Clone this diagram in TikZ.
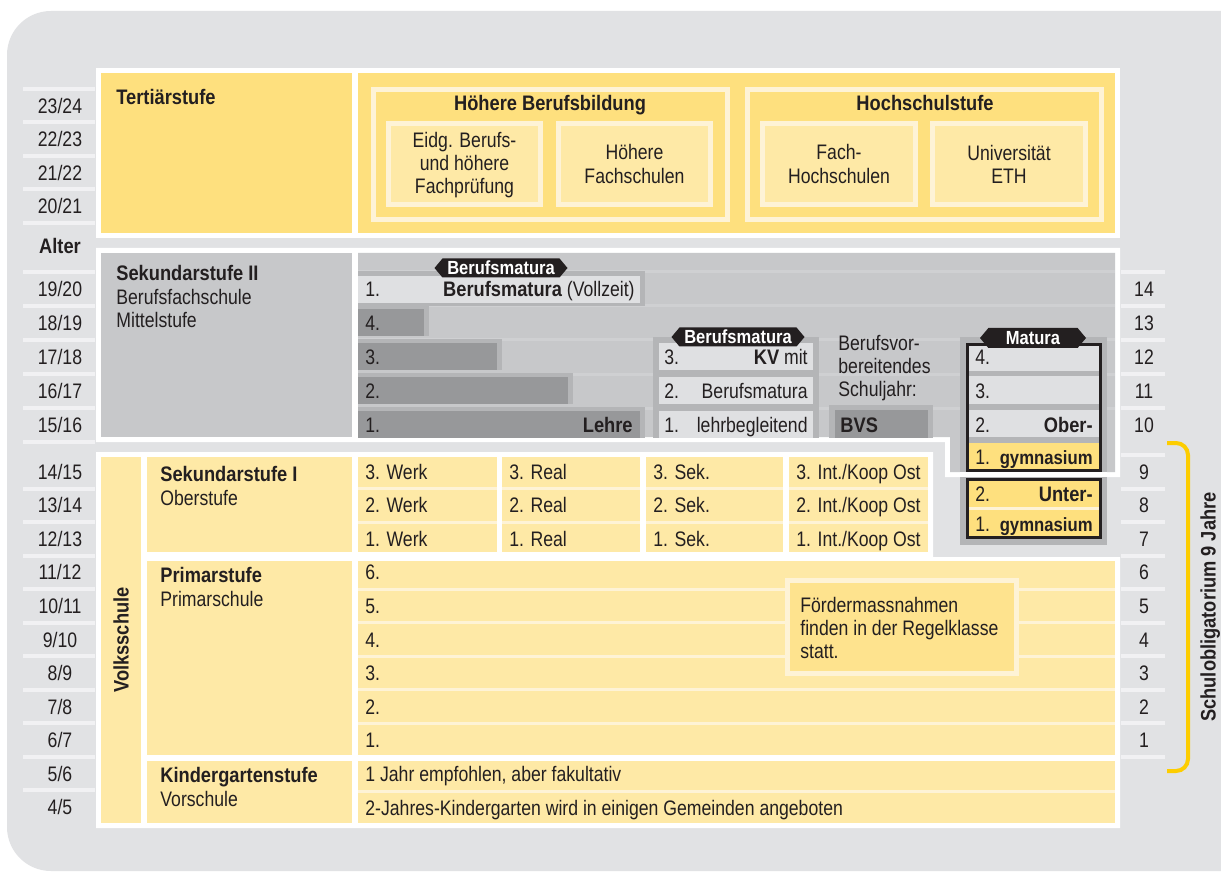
\documentclass[tikz,border=0pt]{standalone}
\usepackage{fontspec}
\setmainfont[FakeStretch=0.84,BoldFeatures={FakeStretch=0.87}]{Liberation Sans}
\usepackage{xcolor}
\usepackage{tikz}
\usetikzlibrary{shapes.symbols}

\definecolor{bg}{HTML}{E1E2E4}
\definecolor{ink}{HTML}{231F20}
\definecolor{gelb}{HTML}{FEE07E}
\definecolor{creme}{HTML}{FEF3D6}
\definecolor{hell}{HTML}{FEE9A6}
\definecolor{foerd}{HTML}{FEE38E}
\definecolor{grau}{HTML}{C7C8CA}
\definecolor{streif}{HTML}{CFD0D2}
\definecolor{dunkel}{HTML}{97989A}
\definecolor{mittel}{HTML}{B4B5B7}
\definecolor{blass}{HTML}{DFE0E2}
\definecolor{strich}{HTML}{F1F1F3}
\definecolor{gold}{HTML}{FDCD00}
\newcommand{\fs}{\fontsize{10.5}{11.6}\selectfont}

\begin{document}
\begin{tikzpicture}[x=0.5pt,y=-0.5pt,
	txt/.style={inner sep=0pt,text=ink,font=\fs,text height=7.5pt,text depth=0pt},
	lft/.style={txt,anchor=west},
	rgt/.style={txt,anchor=east},
	fett/.style={font=\fs\bfseries},
	multi/.style={inner sep=0pt,text=ink,font=\fs,align=center},
	tag/.style={signal,signal to=west and east,signal pointer angle=100,fill=ink,text=white,
		font=\fontsize{9.5}{10}\selectfont\bfseries,inner sep=0pt,minimum height=9.5pt,
		text height=6.8pt,text depth=0pt}]
	\path[use as bounding box] (0,0) rectangle (1221,877);
	\clip (0,0) rectangle (1221,877);
	\fill[white] (0,0) rectangle (1221,877);
	\fill[bg,rounded corners=22pt] (7,11) rectangle (1290,871);
	
	% Alter
	\foreach \y in {89,122.5,156,189.5,223,272,306,340,374,408,441.5,488.5,522,555.5,589,622.5,656,689.5,723,756.5,790}
		\fill[strich] (23,\y-2) rectangle (95,\y+2);
	\foreach \y in {272,306,340,374,408,455,488.5,522,555.5,589,622.5,656,689.5,723,756.5}
		\fill[strich] (1121,\y-2) rectangle (1165,\y+2);
	
	\foreach \a [count=\i from 0] in {23/24,22/23,21/22,20/21}
		\node[txt] (ta\i) at (60,{106+33.5*\i}) {\a};
	\node[txt,fett] (alter) at (60,246.5) {Alter};
	\foreach \a [count=\i from 0] in {19/20,18/19,17/18,16/17,15/16}
		\node[txt] (sa\i) at (60,{289+33.9*\i}) {\a};
	\foreach \a [count=\i from 0] in {14/15,13/14,12/13,11/12,10/11,9/10,8/9,7/8,6/7,5/6,4/5}
		\node[txt] (va\i) at (60,{471.8+33.55*\i}) {\a};
	
	\foreach \n [count=\i from 0] in {14,13,12,11,10}
		\node[txt] (rn\n) at (1144,{289+33.9*\i}) {\n};
	\foreach \n [count=\i from 0] in {9,8,7,6,5,4,3,2,1}
		\node[txt] (rn\n) at (1144,{471.8+33.55*\i}) {\n};
	
	% Tertiaerstufe
	\fill[white] (96,68) rectangle (1120,238);
	\fill[gelb] (101,73) rectangle (352,233);
	\fill[gelb] (358,73) rectangle (1115,233);
	\foreach \xa/\xb in {371/730,745/1104}{
		\fill[creme] (\xa,87) rectangle (\xb,222);
		\fill[gelb] (\xa+5,92) rectangle (\xb-5,217);
	}
	\foreach \xa/\xb in {386/543,556/713,760/918,930/1088}{
		\fill[creme] (\xa,121) rectangle (\xb,207);
		\fill[hell] (\xa+5,126) rectangle (\xb-5,202);
	}
	\node[lft,fett] (tert) at (116,97) {Tertiärstufe};
	\node[txt,fett] (hbb) at (550,103) {Höhere Berufsbildung};
	\node[txt,fett] (hsst) at (925,103) {Hochschulstufe};
	\node[multi] (efp) at (464.5,165) {Eidg. Berufs-\\und höhere\\Fachprüfung};
	\node[multi] (hfs) at (634.5,164) {Höhere\\Fachschulen};
	\node[multi] (fhs) at (839,164) {Fach-\\Hochschulen};
	\node[multi] (uni) at (1009,164) {Universität\\ETH};
	
	% Sekundarstufe II
	\fill[white] (96,248) -- (1120,248) -- (1120,477) -- (945,477) -- (945,442) -- (96,442) -- cycle;
	\fill[grau] (101,253) rectangle (352,437);
	\fill[grau] (358,253) -- (1115,253) -- (1115,472) -- (950,472) -- (950,437) -- (358,437) -- cycle;
	\foreach \y in {272,306,340,374,408}
		\fill[streif] (358,\y-1.5) rectangle (1115,\y+1.5);
	\node[lft,fett] (sek2) at (116,273) {Sekundarstufe II};
	\node[lft] (bfs) at (116,297) {Berufsfachschule};
	\node[lft] (mst) at (116,320.5) {Mittelstufe};
	
	\fill[mittel] (358,271) rectangle (645,306);
	\fill[blass] (358,276) rectangle (640,303);
	\node[lft] (bmv1) at (365,289) {1.};
	\node[rgt] (bmv) at (635,289) {\textbf{Berufsmatura} (Vollzeit)};
	\foreach \n/\xr [count=\i from 1] in {4./424,3./497,2./568,1./640}{
		\fill[mittel] (358,{289+33.9*\i-18}) rectangle (\xr+5,{289+33.9*\i+13});
		\fill[dunkel] (358,{289+33.9*\i-14}) rectangle (\xr,{289+33.9*\i+13});
		\node[lft] (bar\i) at (365,{289+33.9*\i}) {\n};
	}
	\node[rgt,fett] (lehre) at (633,424.6) {Lehre};
	
	\fill[mittel] (653,337) rectangle (819,437.6);
	\foreach \n/\t [count=\i from 2] in {3./{\textbf{KV} mit},2./Berufsmatura,1./lehrbegleitend}{
		\fill[blass] (659,{289+33.9*\i-14}) rectangle (813,{289+33.9*\i+13});
		\node[lft] (kvn\i) at (664,{289+33.9*\i}) {\n};
		\node[rgt] (kvt\i) at (808,{289+33.9*\i}) {\t};
	}
	
	\node[inner sep=0pt,text=ink,font=\fs,align=left,anchor=west] (bvj) at (838,368) {Berufsvor-\\bereitendes\\Schuljahr:};
	\fill[mittel] (829,405) rectangle (933,437.6);
	\fill[dunkel] (835,410) rectangle (928,437.6);
	\node[lft,fett] (bvs) at (840,424.6) {BVS};
	
	% Gymnasium
	\fill[mittel] (960,337) rectangle (1107,545);
	\fill[white] (960,472) rectangle (1107,477);
	\fill[ink] (966,343) rectangle (1102,472);
	\fill[mittel] (969,346) rectangle (1099,469);
	\foreach \ya/\yb/\c in {346/371/blass,376/404/blass,410/437/blass,443/469/gelb}
		\fill[\c] (969,\ya) rectangle (1099,\yb);
	\node[lft] (m4) at (975,357) {4.};
	\node[lft] (m3) at (975,390.7) {3.};
	\node[lft] (m2) at (975,424.6) {2.};
	\node[rgt,fett] (ober) at (1093,424.6) {Ober-};
	\node[lft] (m1) at (975,457) {1.};
	\node[rgt,font=\fontsize{9.6}{10}\selectfont\bfseries] (gymo) at (1093,457) {gymnasium};
	\fill[ink] (966,478) rectangle (1102,539);
	\fill[creme] (969,481) rectangle (1099,536);
	\fill[gelb] (969,481) rectangle (1099,507);
	\fill[gelb] (969,510) rectangle (1099,536);
	\node[lft] (u2) at (975,494) {2.};
	\node[rgt,fett] (unter) at (1093,494) {Unter-};
	\node[lft] (u1) at (975,523.5) {1.};
	\node[rgt,font=\fontsize{9.6}{10}\selectfont\bfseries] (gymu) at (1093,523.5) {gymnasium};
	
	% Volksschule
	\fill[white] (96,452) -- (933,452) -- (933,557) -- (1120,557) -- (1120,828) -- (96,828) -- cycle;
	\fill[hell] (101,457) rectangle (141,823);
	\fill[hell] (147,457) rectangle (352,552);
	\fill[hell] (147,561) rectangle (352,755);
	\fill[hell] (147,761) rectangle (352,823);
	\node[txt,fett,rotate=90] (volk) at (121,640) {Volksschule};
	\node[lft,fett] (sek1) at (160,474) {Sekundarstufe I};
	\node[lft] (obs) at (160,497.5) {Oberstufe};
	\node[lft,fett] (prim) at (160,575) {Primarstufe};
	\node[lft] (prs) at (160,599) {Primarschule};
	\node[lft,fett] (kgs) at (160,775) {Kindergartenstufe};
	\node[lft] (vors) at (160,799) {Vorschule};
	
	\foreach \xa/\xb/\name [count=\j] in {358/497/Werk,502/640/Real,646/783/Sek.,789/928/{Int./Koop Ost}}{
		\fill[hell] (\xa,457) rectangle (\xb,552);
		\fill[creme] (\xa,487) rectangle (\xb,490);
		\fill[creme] (\xa,520.5) rectangle (\xb,523.5);
		\foreach \k [count=\i from 0] in {3,2,1}
			\node[lft] (sk\j\k) at (\xa+7,{471.8+33.55*\i}) {\k. \name};
	}
	
	\fill[hell] (358,561) rectangle (1115,755);
	\foreach \y in {589,622.5,656,689.5,723}
		\fill[creme] (358,\y-1.5) rectangle (1115,\y+1.5);
	\foreach \k [count=\i from 3] in {6,5,4,3,2,1}
		\node[lft] (pr\k) at (365,{471.8+33.55*\i}) {\k.};
	\fill[creme] (785,578) rectangle (1019,676);
	\fill[foerd] (790,583) rectangle (1014,671);
	\node[inner sep=0pt,text=ink,font=\fs,align=left,anchor=west] (foerd) at (800,628) {Fördermassnahmen\\finden in der Regelklasse\\statt.};
	
	\fill[hell] (358,761) rectangle (1115,823);
	\fill[creme] (358,789.5) rectangle (1115,792.5);
	\node[lft] (kg1) at (365,774.4) {1 Jahr empfohlen, aber fakultativ};
	\node[lft] (kg2) at (365,808) {2-Jahres-Kindergarten wird in einigen Gemeinden angeboten};
	
	% Schulobligatorium
	\coordinate (ba) at (1167,443);
	\coordinate (bb) at (1167,771);
	\draw[gold,line width=2pt,rounded corners=6pt] (ba) -- (1188,443) -- (1188,771) -- (bb);
	\node[txt,fett,rotate=90] (obl) at (1208,607) {Schulobligatorium 9 Jahre};
	
	\node[tag,minimum width=66.5pt] (bm1) at (501,268) {Berufsmatura};
	\node[tag,minimum width=66.5pt] (bm2) at (738,337) {Berufsmatura};
	\node[tag,minimum width=53pt,minimum height=10pt] (mat) at (1033,338) {Matura};
\end{tikzpicture}
\end{document}
